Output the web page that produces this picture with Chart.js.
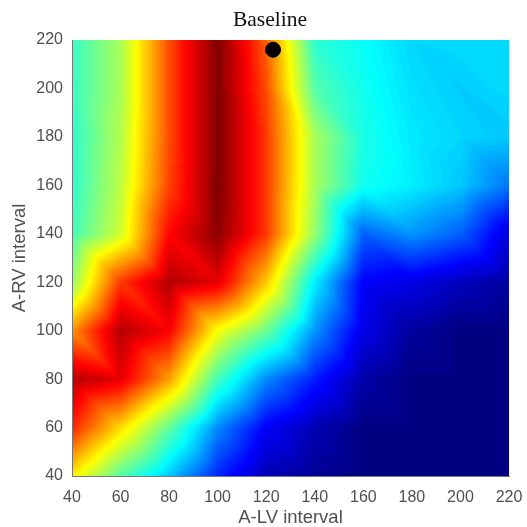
<!DOCTYPE html>
<html>
<head>
<meta charset="utf-8">
<style>
html, body { margin: 0; padding: 0; background: #fff; }
canvas { display: block; }
</style>
<script src="https://cdn.jsdelivr.net/npm/chart.js@4"></script>
</head>
<body>
<canvas id="myChart" width="527" height="527"></canvas>
<script>
const aLv = [40, 60, 80, 100, 120, 140, 160, 180, 200, 220];
const aRv = [220, 200, 180, 160, 140, 120, 100, 80, 60, 40];

// response, one list per A-RV value (0 = dark blue, 1 = dark red)
const row220 = [.43, .54, .80, 1.0, .78, .42, .38, .335, .34, .34];
const row200 = [.43, .54, .80, 1.0, .80, .46, .39, .345, .325, .34];
const row180 = [.42, .55, .80, 1.0, .82, .54, .40, .355, .335, .32];
const row160 = [.42, .56, .81, 1.0, .82, .54, .39, .36, .32, .24];
const row140 = [.44, .58, .87, .99, .82, .52, .22, .27, .22, .09];
const row120 = [.52, .82, .95, .90, .68, .36, .12, .10, .06, .03];
const row100 = [.73, .95, .88, .62, .48, .27, .10, .03, 0, 0];
const row80 = [.95, .90, .72, .44, .26, .15, .04, 0, 0, 0];
const row60 = [.84, .66, .47, .26, .12, .05, 0, 0, 0, 0];
const row40 = [.64, .46, .32, .16, .05, .02, 0, 0, 0, 0];
const rows = [row220, row200, row180, row160, row140, row120, row100, row80, row60, row40];

const baselineX = [122.8];
const baselineY = [216];

const tickColor = '#505050';
const levels = 128;

function jet(t) {
    t = Math.round(Math.min(1, Math.max(0, t)) * (levels - 1)) / (levels - 1);
    const c = v => Math.round(255 * Math.min(1, Math.max(0, 1.5 - Math.abs(4 * t - v))));
    return [c(3), c(2), c(1)];
}

// value at a data position, from the two triangles of each grid cell
function fieldAt(x, y) {
    const fx = Math.min(aLv.length - 2, Math.max(0, Math.floor((x - aLv[0]) / 20)));
    const fy = Math.min(aRv.length - 2, Math.max(0, Math.floor((aRv[0] - y) / 20)));
    const u = (x - aLv[fx]) / 20;
    const v = (aRv[fy] - y) / 20;
    const tl = rows[fy][fx], tr = rows[fy][fx + 1];
    const bl = rows[fy + 1][fx], br = rows[fy + 1][fx + 1];
    // cells are split from their top left corner to bottom right corner
    if (u >= v) return tl + u * (tr - tl) + v * (br - tr);
    return tl + v * (bl - tl) + u * (br - bl);
}

const heatField = {
    id: 'heatField',
    beforeDatasetsDraw(chart) {
        const { ctx, chartArea: a, scales } = chart;
        const w = Math.round(a.right - a.left);
        const h = Math.round(a.bottom - a.top);
        const img = ctx.createImageData(w, h);
        for (let j = 0; j < h; j++) {
            const y = scales.y.getValueForPixel(a.top + j + 0.5);
            for (let i = 0; i < w; i++) {
                const x = scales.x.getValueForPixel(a.left + i + 0.5);
                const col = jet(fieldAt(x, y));
                const k = (j * w + i) * 4;
                img.data[k] = col[0];
                img.data[k + 1] = col[1];
                img.data[k + 2] = col[2];
                img.data[k + 3] = 255;
            }
        }
        ctx.putImageData(img, Math.round(a.left), Math.round(a.top));
    }
};

const nodes = [];
rows.forEach((r, j) => r.forEach((v, i) => nodes.push({ x: aLv[i], y: aRv[j], v: v })));

new Chart(document.getElementById('myChart'), {
    type: 'scatter',
    data: {
        datasets: [{
            label: 'Response',
            data: nodes,
            pointRadius: 0,
            order: 2
        }, {
            label: 'Baseline',
            data: baselineX.map((x, i) => ({ x: x, y: baselineY[i] })),
            pointRadius: 7.5,
            pointHoverRadius: 7.5,
            backgroundColor: '#000',
            borderColor: '#000',
            order: 1
        }]
    },
    plugins: [heatField],
    options: {
        responsive: false,
        animation: false,
        layout: { padding: { left: 31, right: 18, top: 0, bottom: 0 } },
        plugins: {
            legend: { display: false },
            tooltip: { enabled: false },
            title: {
                display: true,
                text: 'Baseline',
                color: '#111',
                font: { family: '"Liberation Serif"', size: 21.5, weight: 'normal', lineHeight: 25 / 21.5 },
                padding: { top: 8, bottom: 7 }
            }
        },
        scales: {
            x: {
                type: 'linear',
                min: 40,
                max: 220,
                afterFit(scale) { scale.height = 51; },
                grid: { display: false },
                border: { display: true, color: '#777', z: 1 },
                ticks: {
                    stepSize: 20,
                    autoSkip: false,
                    maxRotation: 0,
                    padding: 4,
                    color: tickColor,
                    font: { family: '"Liberation Sans"', size: 16 }
                },
                title: {
                    display: true,
                    text: 'A-LV interval',
                    color: tickColor,
                    font: { family: '"Liberation Sans"', size: 18.5 },
                    padding: { top: 0, bottom: -2 }
                }
            },
            y: {
                type: 'linear',
                min: 40,
                max: 220,
                afterFit(scale) { scale.width = 41; },
                grid: { display: false },
                border: { display: true, color: '#777', z: 1 },
                ticks: {
                    stepSize: 20,
                    autoSkip: false,
                    padding: 1,
                    color: tickColor,
                    font: { family: '"Liberation Sans"', size: 16 }
                },
                title: {
                    display: true,
                    text: 'A-RV interval',
                    color: tickColor,
                    font: { family: '"Liberation Sans"', size: 18.5 },
                    padding: { top: -21.8, bottom: 0 }
                }
            }
        }
    }
});
</script>
</body>
</html>
